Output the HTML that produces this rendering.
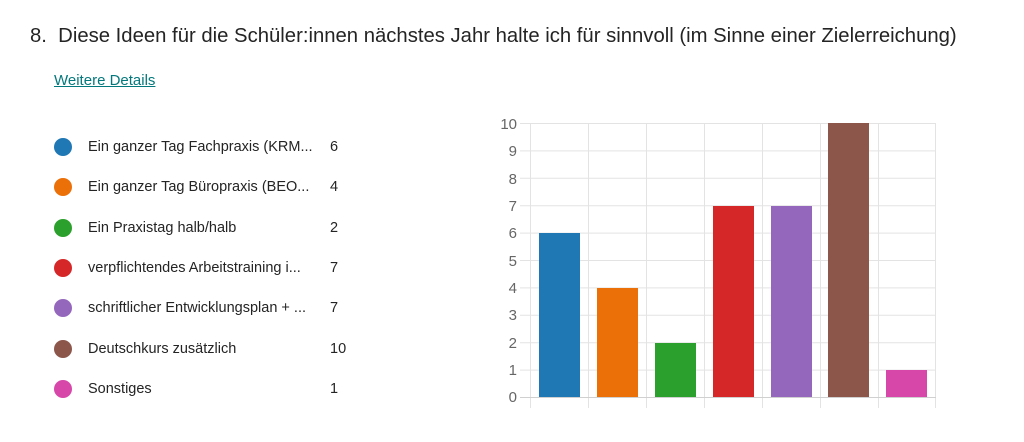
<!DOCTYPE html>
<html><head><meta charset="utf-8"><style>
body{margin:0;width:1024px;height:442px;background:#fff;font-family:"Segoe UI","Liberation Sans",sans-serif;color:#242424;position:relative;overflow:hidden}
.t{position:absolute;left:30px;top:25px;font-size:20.3px;white-space:nowrap}
.l{position:absolute;left:54px;top:72px;font-size:15px;color:#03787c;text-decoration:underline}
.r{position:absolute;left:54px;font-size:14.5px;height:20px;line-height:20px}
.r i{position:absolute;left:0;top:1px;width:18px;height:18px;border-radius:50%}
.r span{position:absolute;left:34px;white-space:nowrap}
.r b{position:absolute;left:276px;font-weight:normal}
</style></head><body>
<div class="t">8.&nbsp; Diese Ideen für die Schüler:innen nächstes Jahr halte ich für sinnvoll (im Sinne einer Zielerreichung)</div>
<div class="l">Weitere Details</div>
<div class="r" style="top:137px"><i style="background:#1f77b4"></i><span>Ein ganzer Tag Fachpraxis (KRM...</span><b>6</b></div>
<div class="r" style="top:177px"><i style="background:#ec7008"></i><span>Ein ganzer Tag Büropraxis (BEO...</span><b>4</b></div>
<div class="r" style="top:218px"><i style="background:#2ca02c"></i><span>Ein Praxistag halb/halb</span><b>2</b></div>
<div class="r" style="top:258px"><i style="background:#d62728"></i><span>verpflichtendes Arbeitstraining i...</span><b>7</b></div>
<div class="r" style="top:298px"><i style="background:#9467bd"></i><span>schriftlicher Entwicklungsplan + ...</span><b>7</b></div>
<div class="r" style="top:339px"><i style="background:#8c564b"></i><span>Deutschkurs zusätzlich</span><b>10</b></div>
<div class="r" style="top:379px"><i style="background:#d647a9"></i><span>Sonstiges</span><b>1</b></div>
<svg width="1024" height="442" style="position:absolute;left:0;top:0" font-family="Liberation Sans,sans-serif" font-size="15" fill="#666">
<g stroke="#e3e3e3" stroke-width="1">
<line x1="520" x2="936" y1="123.5" y2="123.5"/><line x1="520" x2="936" y1="150.9" y2="150.9"/><line x1="520" x2="936" y1="178.3" y2="178.3"/><line x1="520" x2="936" y1="205.7" y2="205.7"/><line x1="520" x2="936" y1="233.1" y2="233.1"/><line x1="520" x2="936" y1="260.5" y2="260.5"/><line x1="520" x2="936" y1="287.9" y2="287.9"/><line x1="520" x2="936" y1="315.3" y2="315.3"/><line x1="520" x2="936" y1="342.7" y2="342.7"/><line x1="520" x2="936" y1="370.1" y2="370.1"/>
<line x1="530.5" x2="530.5" y1="123" y2="408"/><line x1="588.5" x2="588.5" y1="123" y2="408"/><line x1="646.5" x2="646.5" y1="123" y2="408"/><line x1="704.5" x2="704.5" y1="123" y2="408"/><line x1="762.5" x2="762.5" y1="123" y2="408"/><line x1="820.5" x2="820.5" y1="123" y2="408"/><line x1="878.5" x2="878.5" y1="123" y2="408"/><line x1="935.5" x2="935.5" y1="123" y2="408"/>
</g>
<line x1="520" x2="936" y1="397.5" y2="397.5" stroke="#d0d0d0"/>
<g text-anchor="end">
<text x="517" y="129">10</text><text x="517" y="156">9</text><text x="517" y="184">8</text><text x="517" y="211">7</text><text x="517" y="238">6</text><text x="517" y="266">5</text><text x="517" y="293">4</text><text x="517" y="320">3</text><text x="517" y="348">2</text><text x="517" y="375">1</text><text x="517" y="402">0</text>
</g>
<rect x="539" y="233" width="41" height="164" fill="#1f77b4"/>
<rect x="597" y="288" width="41" height="109" fill="#ec7008"/>
<rect x="655" y="343" width="41" height="54" fill="#2ca02c"/>
<rect x="713" y="206" width="41" height="191" fill="#d62728"/>
<rect x="771" y="206" width="41" height="191" fill="#9467bd"/>
<rect x="828" y="123" width="41" height="274" fill="#8c564b"/>
<rect x="886" y="370" width="41" height="27" fill="#d647a9"/>
</svg>
</body></html>
